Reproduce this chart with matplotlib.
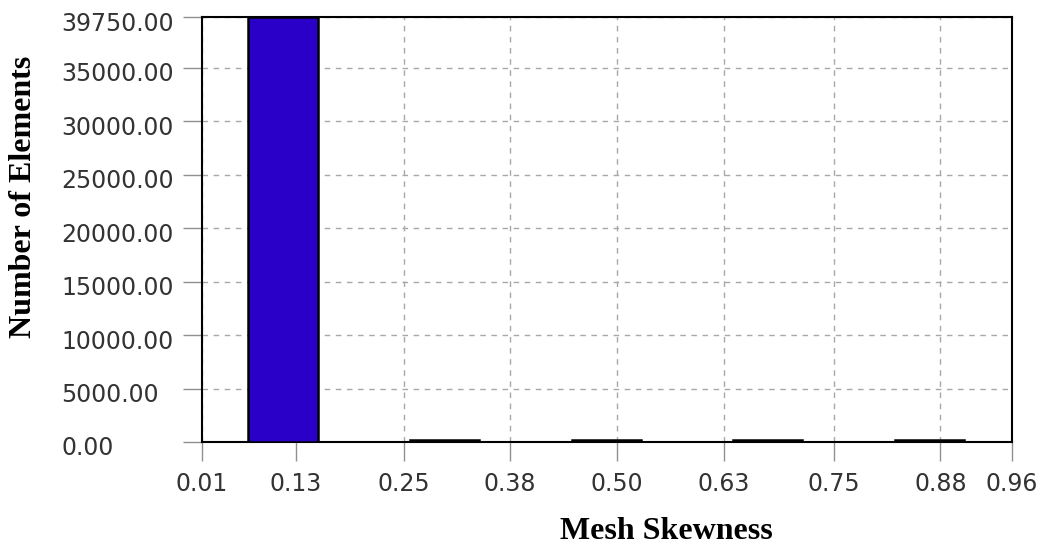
import matplotlib
matplotlib.use("Agg")
import matplotlib.pyplot as plt
import matplotlib.transforms as mtransforms

# histogram bins (centre of each bar) and element counts
bin_centers = [0.105, 0.2945, 0.4845, 0.6735, 0.8635]
bin_width = 0.081
counts = [39750, 160, 160, 160, 160]

x_tick_pos = [0.01, 0.12, 0.247, 0.371, 0.497, 0.622, 0.751, 0.876, 0.96]
x_tick_labels = ['0.01', '0.13', '0.25', '0.38', '0.50', '0.63', '0.75', '0.88', '0.96']
y_ticks = [0, 5000, 10000, 15000, 20000, 25000, 30000, 35000, 39750]

fig = plt.figure(figsize=(10.43, 5.54), dpi=100)
ax = fig.add_axes([0.1937, 0.2022, 0.9703 - 0.1937, 0.9693 - 0.2022])

ax.set_axisbelow(True)
ax.grid(True, linestyle=(0, (4, 4)), color='#a8a8a8', linewidth=1.0)

ax.bar(bin_centers, counts, width=bin_width, color='#2a00c8',
       edgecolor='black', linewidth=1.8, zorder=3)

ax.set_xlim(0.01, 0.96)
ax.set_ylim(0, 39750)
ax.set_xticks(x_tick_pos)
ax.set_xticklabels(x_tick_labels)
ax.set_yticks(y_ticks)
ax.set_yticklabels([f'{v:.2f}' for v in y_ticks])

for s in ax.spines.values():
    s.set_linewidth(1.5)
    s.set_color('black')

ax.tick_params(axis='both', direction='out', length=13.5, width=1.0,
               color='#909090', labelsize=17, labelcolor='#333333')
ax.tick_params(axis='x', pad=8)
ax.tick_params(axis='y', pad=88)
shift = mtransforms.ScaledTranslation(0, -4 / 100, fig.dpi_scale_trans)
for lbl in ax.get_yticklabels():
    lbl.set_horizontalalignment('left')
    lbl.set_transform(lbl.get_transform() + shift)

fig.text(0.023, 0.644, 'Number of Elements', rotation=90, ha='center', va='center',
         family='Liberation Serif', fontweight='bold', fontsize=23)
fig.text(0.639, 0.04, 'Mesh Skewness', ha='center', va='center',
         family='Liberation Serif', fontweight='bold', fontsize=23)

fig.savefig('out.png', dpi=100)
